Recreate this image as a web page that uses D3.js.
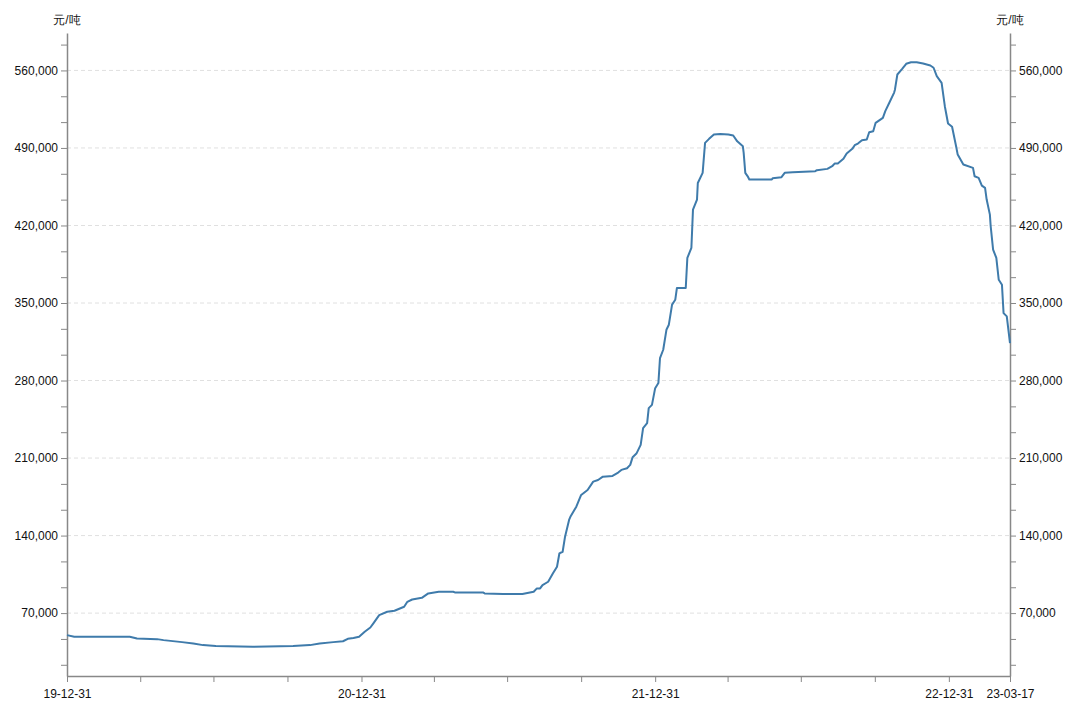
<!DOCTYPE html>
<html>
<head>
<meta charset="utf-8">
<script src="https://cdn.jsdelivr.net/npm/d3@7"></script>
<style>
  html, body { margin: 0; padding: 0; background: #fff; }
  svg { display: block; font-family: "Liberation Sans", Arial, Helvetica, sans-serif; }
</style>
</head>
<body>
<svg id="chart" width="1080" height="709"></svg>
<script>
// ---- data ----
const dates = [
  "2019-12-31","2020-01-09","2020-03-18","2020-03-27","2020-04-21","2020-04-29","2020-05-22","2020-06-05",
  "2020-06-17","2020-07-03","2020-08-18","2020-10-07","2020-10-28","2020-11-09","2020-11-26","2020-12-08",
  "2020-12-14","2020-12-21","2020-12-28","2021-01-04","2021-01-11","2021-01-15","2021-01-22","2021-02-01",
  "2021-02-10","2021-02-22","2021-02-26","2021-03-04","2021-03-16","2021-03-24","2021-04-06","2021-04-24",
  "2021-04-26","2021-05-31","2021-06-02","2021-06-25","2021-07-19","2021-08-02","2021-08-06","2021-08-10",
  "2021-08-13","2021-08-20","2021-08-26","2021-08-31","2021-09-03","2021-09-07","2021-09-10","2021-09-15",
  "2021-09-17","2021-09-24","2021-09-30","2021-10-08","2021-10-15","2021-10-21","2021-10-27","2021-11-08",
  "2021-11-15","2021-11-19","2021-11-26","2021-11-30","2021-12-03","2021-12-08","2021-12-13","2021-12-16",
  "2021-12-21","2021-12-23","2021-12-27","2021-12-31","2022-01-04","2022-01-06","2022-01-10","2022-01-14",
  "2022-01-17","2022-01-21","2022-01-25","2022-01-27","2022-02-07","2022-02-09","2022-02-14","2022-02-16",
  "2022-02-21","2022-02-22","2022-02-28","2022-03-03","2022-03-08","2022-03-14","2022-03-22","2022-04-01",
  "2022-04-07","2022-04-12","2022-04-19","2022-04-20","2022-04-22","2022-04-25","2022-04-27","2022-05-25",
  "2022-05-26","2022-06-06","2022-06-10","2022-06-20","2022-07-18","2022-07-20","2022-08-02","2022-08-08",
  "2022-08-11","2022-08-15","2022-08-22","2022-08-26","2022-09-02","2022-09-05","2022-09-09","2022-09-14",
  "2022-09-20","2022-09-23","2022-09-28","2022-10-01","2022-10-10","2022-10-13","2022-10-18","2022-10-24",
  "2022-10-25","2022-10-28","2022-11-03","2022-11-08","2022-11-14","2022-11-21","2022-11-29","2022-12-08",
  "2022-12-12","2022-12-16","2022-12-22","2022-12-26","2022-12-30","2023-01-04","2023-01-09","2023-01-11",
  "2023-01-18","2023-01-30","2023-02-01","2023-02-06","2023-02-10","2023-02-14","2023-02-16","2023-02-20",
  "2023-02-21","2023-02-24","2023-02-28","2023-03-03","2023-03-07","2023-03-09","2023-03-13","2023-03-17"
];
const prices = [
  50100,48600,48600,47100,46500,45600,43800,42600,
  41100,40200,39600,40200,41100,42600,43800,44600,
  46800,47500,48600,53100,57000,61000,68200,71200,
  72100,75700,80200,82300,83800,87800,89300,89300,
  88700,88700,87800,87200,87200,89300,92300,92300,
  95300,98300,105900,111900,124000,125400,139000,154100,
  157500,166100,176700,181200,188700,190200,193200,193900,
  196900,199300,200800,203800,210800,214400,221900,237000,
  241500,255100,258000,273100,277700,300300,307800,325800,
  330400,348500,353000,363500,363500,390700,399700,434300,
  443400,458400,467500,494600,498200,502100,502700,502100,
  501200,496000,491500,485500,467500,464400,461500,461500,
  462700,463600,467500,468100,469000,469900,471100,473500,
  475900,475900,480200,485000,489200,492500,494000,497000,
  497600,504200,505100,512700,517200,523200,530800,540000,
  542600,556300,561400,566000,567400,567400,566200,564400,
  562400,554800,548800,527700,512100,509100,491500,484000,
  475000,472000,464400,463000,456000,453900,443400,429800,
  419300,398200,390700,371000,366500,340900,337900,313800
];
const unitLabel = "元/吨";
const yTickStep = 70000 / 3;       // minor tick spacing
const yLabelStep = 70000;          // labelled ticks
const xTickDates = [
  "2019-12-31","2020-03-31","2020-06-30","2020-09-30","2020-12-31","2021-03-31","2021-06-30","2021-09-30",
  "2021-12-31","2022-03-31","2022-06-30","2022-09-30","2022-12-31","2023-03-17"
];
const xLabelDates = ["2019-12-31","2020-12-31","2021-12-31","2022-12-31","2023-03-17"];

// ---- layout ----
const W = 1080, H = 709;
const margin = { top: 33, right: 70, bottom: 33, left: 67 };
const iw = W - margin.left - margin.right;
const ih = H - margin.top - margin.bottom;

const parse = d3.timeParse("%Y-%m-%d");
const fmtDate = d3.timeFormat("%y-%m-%d");
const data = dates.map((d, i) => ({ date: parse(d), value: prices[i] }));

const x = d3.scaleTime()
  .domain(d3.extent(data, d => d.date))
  .range([0, iw]);

const [vmin, vmax] = d3.extent(data, d => d.value);
const pad = (vmax - vmin) * 0.05;
const y = d3.scaleLinear()
  .domain([vmin - pad, vmax + pad])
  .range([ih, 0]);

const svg = d3.select("#chart");
const g = svg.append("g").attr("transform", `translate(${margin.left},${margin.top})`);

// tick values
const yTicks = [];
for (let k = Math.ceil(y.domain()[0] / yTickStep); k * yTickStep <= y.domain()[1]; k++) yTicks.push(k * yTickStep);
const isLabel = v => Math.abs(v / yLabelStep - Math.round(v / yLabelStep)) < 1e-6;
const yLabelTicks = yTicks.filter(isLabel);

// grid
g.append("g").selectAll("line").data(yLabelTicks).join("line")
  .attr("x1", 0).attr("x2", iw)
  .attr("y1", d => y(d)).attr("y2", d => y(d))
  .attr("stroke", "#e0e0e0").attr("stroke-dasharray", "4,3").attr("stroke-width", 1);

const numFmt = d3.format(",");
const axisColor = "#888";

function styleAxis(sel) {
  sel.select(".domain").attr("stroke", axisColor).attr("stroke-width", 1.5);
  sel.selectAll(".tick line").attr("stroke", axisColor);
  sel.selectAll(".tick text").attr("fill", "#111").attr("font-size", 12);
}

// left axis
g.append("g")
  .call(d3.axisLeft(y).tickValues(yTicks).tickSize(6).tickSizeOuter(0)
    .tickFormat(d => isLabel(d) ? numFmt(Math.round(d)) : ""))
  .call(styleAxis);

// right axis
g.append("g").attr("transform", `translate(${iw},0)`)
  .call(d3.axisRight(y).tickValues(yTicks).tickSize(6).tickSizeOuter(0)
    .tickFormat(d => isLabel(d) ? numFmt(Math.round(d)) : ""))
  .call(styleAxis);

// bottom axis
const labelSet = new Set(xLabelDates);
g.append("g").attr("transform", `translate(0,${ih})`)
  .call(d3.axisBottom(x).tickValues(xTickDates.map(parse)).tickSize(6).tickSizeOuter(0)
    .tickFormat(d => labelSet.has(d3.timeFormat("%Y-%m-%d")(d)) ? fmtDate(d) : ""))
  .call(styleAxis)
  .call(s => s.selectAll(".tick text").attr("dy", "1.1em"));

// unit labels
g.append("text").attr("x", 0).attr("y", -9).attr("text-anchor", "middle")
  .attr("font-size", 12).attr("fill", "#111").text(unitLabel);
g.append("text").attr("x", iw).attr("y", -9).attr("text-anchor", "middle")
  .attr("font-size", 12).attr("fill", "#111").text(unitLabel);

// line
const line = d3.line().x(d => x(d.date)).y(d => y(d.value)).curve(d3.curveLinear);
g.append("path").datum(data)
  .attr("fill", "none")
  .attr("stroke", "#3f7bab")
  .attr("stroke-width", 2)
  .attr("stroke-linejoin", "round")
  .attr("d", line);
</script>
</body>
</html>
